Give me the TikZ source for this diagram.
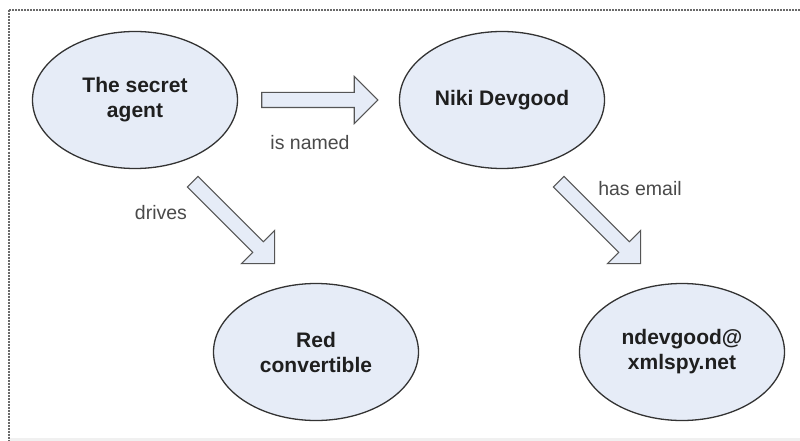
\documentclass[tikz,border=0pt]{standalone}
\usepackage{fontspec}
\setmainfont{Liberation Sans}
\usetikzlibrary{shapes.arrows,shapes.geometric}
\definecolor{nodefill}{HTML}{E6ECF7}
\definecolor{edgeline}{HTML}{333333}
\definecolor{arrowline}{HTML}{555555}
\definecolor{labelgray}{HTML}{4A4A4A}
\definecolor{framegray}{HTML}{6A6A6A}
\definecolor{bandgray}{HTML}{F0F0F0}
\tikzset{
  concept/.style={draw=edgeline, fill=nodefill, ellipse, line width=1.3pt,
    minimum width=205pt, minimum height=137pt, inner sep=0pt, align=center,
    font=\fontsize{21}{25}\selectfont\bfseries, text=black!88},
  blockarrow/.style={draw=arrowline, fill=nodefill, single arrow, line width=1.1pt,
    minimum height=116pt, minimum width=46pt, inner sep=7pt,
    single arrow head extend=16pt, single arrow tip angle=90},
  rellabel/.style={font=\fontsize{19.5}{22}\selectfont, text=labelgray, inner sep=0pt}
}
\begin{document}
\begin{tikzpicture}[x=1pt,y=-1pt]
\useasboundingbox (0,0) rectangle (800,441);
\fill[white] (0,0) rectangle (800,441);
% frame
\coordinate (frameTR) at (800,10);
\coordinate (frameTL) at (8.5,10);
\coordinate (frameBL) at (8.5,441);
\draw[framegray, line width=2pt, dash pattern=on 2pt off 1pt] (frameTR) -- (frameTL) -- (frameBL);
\fill[bandgray] (10,438) rectangle (800,441);
% concept nodes
\node[concept] (agent) at (135,100) {The secret\\agent};
\node[concept] (niki) at (502,100) {Niki Devgood};
\node[concept] (car) at (316,352) {Red\\convertible};
\node[concept] (mail) at (682,352) {ndevgood@\\xmlspy.net};
% block arrows
\node[blockarrow] (a1) at (316,100) {};
\node[blockarrow, rotate=-45] (a2) at (231,220) {};
\node[blockarrow, rotate=-45] (a3) at (597,220) {};
% labels
\node[rellabel] (l1) at (310,143) {is named};
\node[rellabel] (l2) at (161,213) {drives};
\node[rellabel] (l3) at (640,189) {has email};
\end{tikzpicture}
\end{document}
